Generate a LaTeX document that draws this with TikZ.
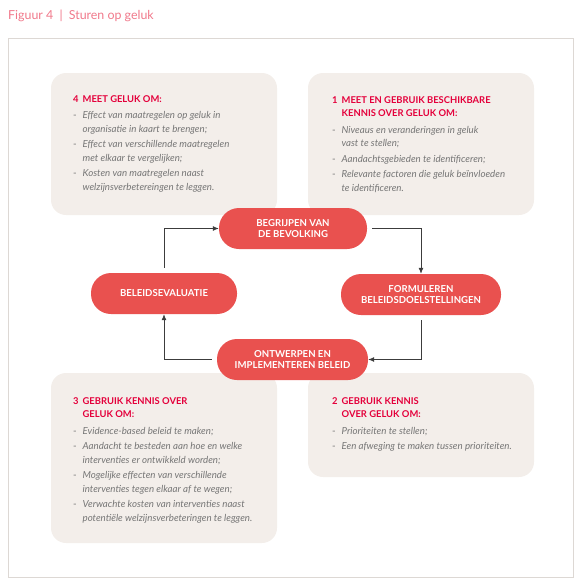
\documentclass[tikz,border=0pt]{standalone}
\usepackage{fontspec}
\setmainfont{Lato}
\usepackage{xcolor}
\usetikzlibrary{arrows.meta,positioning,calc}
\definecolor{pillred}{RGB}{233,81,79}
\definecolor{boxfill}{RGB}{243,238,234}
\definecolor{headred}{RGB}{228,0,59}
\definecolor{bodygray}{RGB}{118,118,118}
\definecolor{titlepink}{RGB}{240,120,138}
\definecolor{framegray}{RGB}{221,216,212}
\definecolor{arrowgray}{RGB}{60,60,60}
\newcommand{\kop}[1]{\textcolor{headred}{\fontsize{9.4}{13}\selectfont\bfseries #1}}
\newcommand{\regel}[1]{\textit{#1}}

\begin{document}
\begin{tikzpicture}[x=1pt,y=-1pt,>={Latex[length=6pt,width=5pt]},
  infobox/.style={fill=boxfill, rounded corners=15pt},
  infotext/.style={anchor=north west, inner sep=0pt, text=bodygray, font=\fontsize{9.7}{13.5}\selectfont},
  pill/.style={fill=pillred, rounded corners=20pt, text=white, align=center, inner sep=0pt,
    minimum height=41pt, font=\fontsize{9.6}{11.5}\selectfont\bfseries},
  flow/.style={->, arrowgray, line width=0.8pt, shorten <=5pt}]
\useasboundingbox (0,0) rectangle (580,584);
\node[anchor=west, inner sep=0pt, text=titlepink, font=\fontsize{12.4}{14}\selectfont] (title) at (8,16)
    {Figuur 4\enspace|\enspace Sturen op geluk};
\draw[framegray, line width=1pt] (8,38) rectangle (573,577);

% kennisblokken
\foreach \xa/\ya/\xb/\yb in {51/73/277/215, 308/73/534/215, 51/373/277/543, 308/373/534/477} {
    \fill[infobox] (\xa,\ya) rectangle (\xb,\yb);
}
\node[infotext] (meten) at (73,92.5) {\begin{tabular}{@{}l@{\hspace{4pt}}l@{}}
    \kop{4} & \kop{MEET GELUK OM:}\\[3pt]
    - & \regel{Effect van maatregelen op geluk in}\\
      & \regel{organisatie in kaart te brengen;}\\[2pt]
    - & \regel{Effect van verschillende maatregelen}\\
      & \regel{met elkaar te vergelijken;}\\[2pt]
    - & \regel{Kosten van maatregelen naast}\\
      & \regel{welzijnsverbetereingen te leggen.}
  \end{tabular}};
\node[infotext] (kennis) at (332,93.5) {\begin{tabular}{@{}l@{\hspace{4pt}}l@{}}
    \kop{1} & \kop{MEET EN GEBRUIK BESCHIKBARE}\\
            & \kop{KENNIS OVER GELUK OM:}\\[3pt]
    - & \regel{Niveaus en veranderingen in geluk}\\
      & \regel{vast te stellen;}\\[2pt]
    - & \regel{Aandachtsgebieden te identificeren;}\\[2pt]
    - & \regel{Relevante factoren die geluk beïnvloeden}\\
      & \regel{te identificeren.}
  \end{tabular}};
\node[infotext] (beleid) at (73,394.5) {\begin{tabular}{@{}l@{\hspace{4pt}}l@{}}
    \kop{3} & \kop{GEBRUIK KENNIS OVER}\\
            & \kop{GELUK OM:}\\[3pt]
    - & \regel{Evidence-based beleid te maken;}\\[2pt]
    - & \regel{Aandacht te besteden aan hoe en welke}\\
      & \regel{interventies er ontwikkeld worden;}\\[2pt]
    - & \regel{Mogelijke effecten van verschillende}\\
      & \regel{interventies tegen elkaar af te wegen;}\\[2pt]
    - & \regel{Verwachte kosten van interventies naast}\\
      & \regel{potentiële welzijnsverbeteringen te leggen.}
  \end{tabular}};
\node[infotext] (prior) at (332,394.5) {\begin{tabular}{@{}l@{\hspace{4pt}}l@{}}
    \kop{2} & \kop{GEBRUIK KENNIS}\\
            & \kop{OVER GELUK OM:}\\[3pt]
    - & \regel{Prioriteiten te stellen;}\\[2pt]
    - & \regel{Een afweging te maken tussen prioriteiten.}
  \end{tabular}};

% beleidscyclus
\node[pill, minimum width=148pt] (begrijpen) at (293,228.5) {BEGRIJPEN VAN\\DE BEVOLKING};
\node[pill, minimum width=160pt] (formuleren) at (421,294.5) {FORMULEREN\\BELEIDSDOELSTELLINGEN};
\node[pill, minimum width=151pt] (ontwerpen) at (292.5,359.5) {ONTWERPEN EN\\IMPLEMENTEREN BELEID};
\node[pill, minimum width=146pt] (evaluatie) at (164,293.5) {BELEIDSEVALUATIE};

\draw[flow] (begrijpen.east) -| (formuleren.north);
\draw[flow] (formuleren.south) |- (ontwerpen.east);
\draw[flow] (ontwerpen.west) -| (evaluatie.south);
\draw[flow] (evaluatie.north) |- (begrijpen.west);
\end{tikzpicture}
\end{document}
